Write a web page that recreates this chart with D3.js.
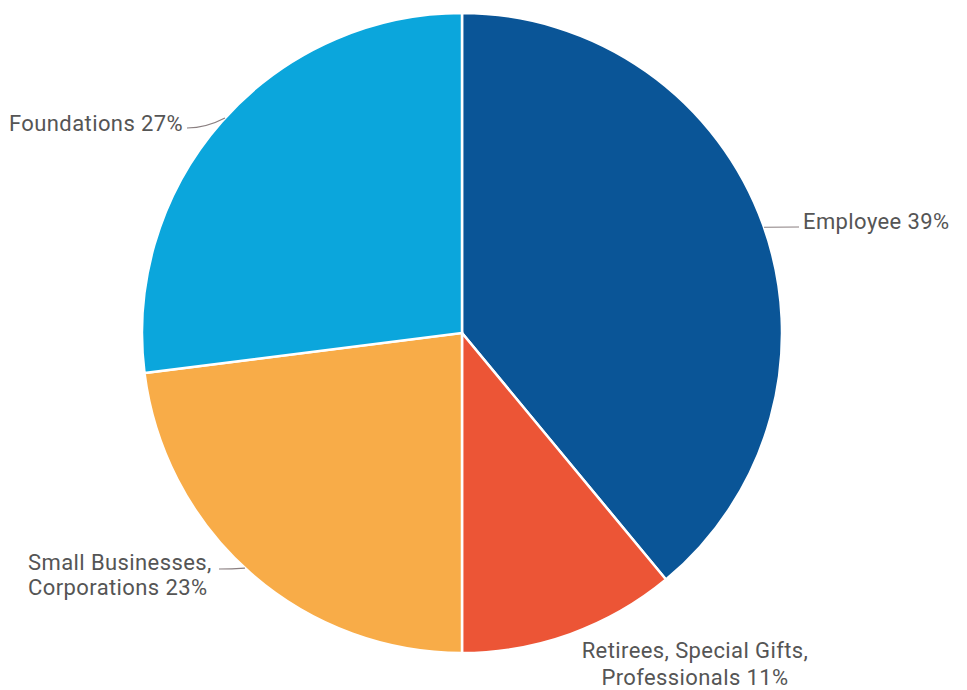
<!DOCTYPE html>
<html><head>
<script src="https://d3js.org/d3.v7.min.js"></script>
<style>
  body { margin: 0; background: #fff; }
  .lbl { font-family: Roboto, sans-serif; font-size: 22px; fill: #555; letter-spacing: 0.4px; }
  .leader { fill: none; stroke: #8a7f80; stroke-width: 1.2px; }
</style>
</head>
<body>
<script>
// chart data
const categories = ["Employee", "Retirees, Special Gifts, Professionals", "Small Businesses, Corporations", "Foundations"];
const shares = [39, 11, 23, 27];
const colors = ["#0a5597", "#ec5536", "#f8ac48", "#0ba6dc"];
const labelLines = [["Employee 39%"], ["Retirees, Special Gifts,", "Professionals 11%"], ["Small Businesses,", "Corporations 23%"], ["Foundations 27%"]];

const width = 967, height = 690;
const cx = 462, cy = 333, radius = 320;

const svg = d3.select("body").append("svg")
    .attr("width", width)
    .attr("height", height);

const pie = d3.pie().sort(null).value(d => d)(shares);
const arc = d3.arc().innerRadius(0).outerRadius(radius);

const g = svg.append("g").attr("transform", "translate(" + cx + "," + cy + ")");

g.selectAll("path.slice").data(pie)
  .join("path")
  .attr("class", "slice")
  .attr("d", arc)
  .style("fill", (d, i) => colors[i])
  .style("stroke", "#fff")
  .style("stroke-width", 2.5);

// label placement (anchor, x, first baseline) per slice
const labelPos = [
  {x: 803, y: 229, anchor: "start", gap: 25},
  {x: 695, y: 658, anchor: "middle", gap: 27},
  {x: 28, y: 570, anchor: "start", gap: 25},
  {x: 9, y: 131, anchor: "start", gap: 25}
];

labelLines.forEach((lines, i) => {
  const p = labelPos[i];
  const t = svg.append("text").attr("class", "lbl")
      .attr("text-anchor", p.anchor);
  lines.forEach((l, j) => {
    t.append("tspan").attr("x", p.x).attr("y", p.y + j * p.gap).text(l);
  });
});

// leader lines from the pie edge to the labels (angle clockwise from top)
const leaders = [
  {angle: 1.234, to: [799, 227]},
  {angle: 3.887, to: [219, 569]},
  {angle: 5.449, to: [187, 128]}
];
leaders.forEach(l => {
  const a = l.angle;
  const px = cx + Math.sin(a) * radius, py = cy - Math.cos(a) * radius;
  svg.append("path").attr("class", "leader")
    .attr("d", "M" + px + "," + py + " Q" + ((px + l.to[0]) / 2) + "," + l.to[1] + " " + l.to[0] + "," + l.to[1]);
});
</script>
</body></html>
